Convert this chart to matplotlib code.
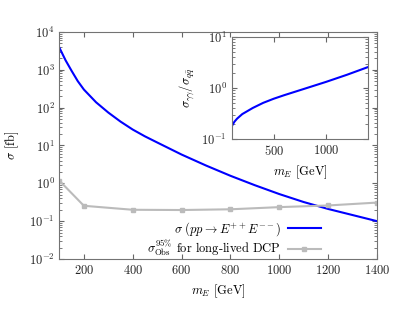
import numpy as np
import matplotlib
matplotlib.use('Agg')
import matplotlib.pyplot as plt

plt.rcParams['font.family'] = 'serif'
plt.rcParams['font.serif'] = ['cmr10', 'DejaVu Serif']
plt.rcParams['mathtext.fontset'] = 'cm'
plt.rcParams['axes.formatter.use_mathtext'] = True
plt.rcParams['axes.unicode_minus'] = False
plt.rcParams['font.size'] = 9

# pair production cross section sigma(pp -> E++ E--) [fb]
m_sigma = [100, 125, 150, 175, 200, 250, 300, 350, 400, 450, 500, 600, 700,
           800, 900, 1000, 1100, 1200, 1300, 1400]
sigma = [3800, 1780, 930, 500, 300, 138, 74, 42.7, 26.3, 17.4, 12.0, 5.75,
         2.95, 1.58, 0.89, 0.52, 0.32, 0.21, 0.145, 0.10]

# observed 95% limit for long-lived DCP [fb]
m_obs = [100, 200, 400, 600, 800, 1000, 1200, 1400]
sigma_obs = [1.17, 0.255, 0.2, 0.197, 0.206, 0.235, 0.26, 0.31]

# inset: photon fusion / qqbar ratio
m_ratio = [100, 110, 125, 150, 200, 300, 400, 500, 600, 800, 1000, 1200, 1400]
ratio = [0.178, 0.195, 0.219, 0.251, 0.309, 0.407, 0.513, 0.617, 0.724,
         0.977, 1.32, 1.82, 2.57]

fig = plt.figure(figsize=(3.99, 3.19), dpi=100)
ax = fig.add_axes([0.149, 0.188, 0.796, 0.712])

ax.plot(m_sigma, sigma, color='#0000ff', lw=1.5,
        label=r'$\sigma\ (pp \to E^{++}E^{--})$')
ax.plot(m_obs, sigma_obs, color='#bbbbbb', lw=1.5, marker='s', ms=3,
        label=r'$\sigma^{95\%}_{\rm Obs}$ for long-lived DCP')
ax.set_yscale('log')
ax.set_xlim(100, 1400)
ax.set_ylim(1e-2, 1e4)
ax.set_xticks([200, 400, 600, 800, 1000, 1200, 1400])
ax.set_xlabel(r'$m_E$ [GeV]')
ax.set_ylabel(r'$\sigma$ [fb]')
ax.yaxis.set_label_coords(-0.12, 0.5)
ax.tick_params(which='both', direction='in', top=True, right=True, colors='0.4',
               labelcolor='0.15')
for s in ax.spines.values():
    s.set_color('0.45')
ax.legend(loc='lower right', bbox_to_anchor=(0.85, -0.035), frameon=False,
          markerfirst=False, handlelength=2.6, labelspacing=0.0,
          borderpad=0.2, handletextpad=0.6, fontsize=9)

ins = fig.add_axes([0.581, 0.564, 0.341, 0.320])
ins.plot(m_ratio, ratio, color='#0000ff', lw=1.5)
ins.set_yscale('log')
ins.set_xlim(100, 1400)
ins.set_ylim(1e-1, 1e1)
ins.set_xticks([500, 1000])
ins.set_xlabel(r'$m_E$ [GeV]')
ins.set_ylabel(r'$\sigma_{\gamma\gamma}/\sigma_{q\bar{q}}$')
ins.tick_params(which='both', direction='in', top=True, right=True, colors='0.4',
                labelcolor='0.15')
for s in ins.spines.values():
    s.set_color('0.45')

fig.savefig('out.png', dpi=100)
